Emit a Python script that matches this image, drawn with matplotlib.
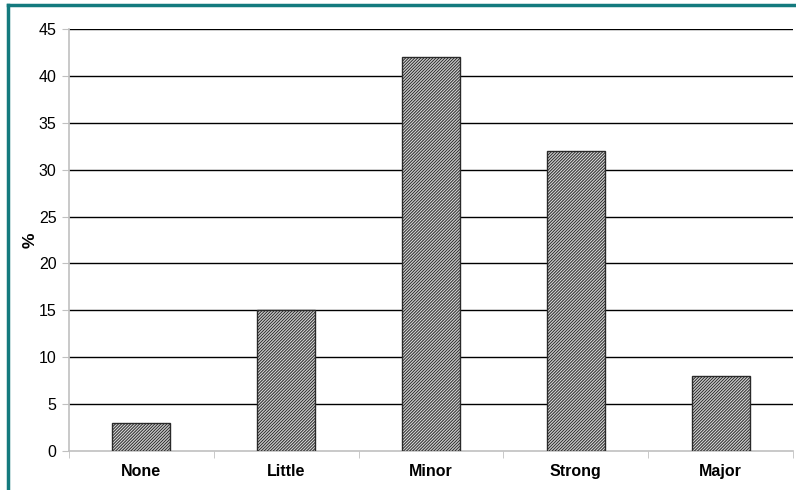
import matplotlib
matplotlib.use('Agg')
import matplotlib.pyplot as plt
from matplotlib.lines import Line2D
import numpy as np

categories = ['None', 'Little', 'Minor', 'Strong', 'Major']
percent = [3, 15, 42, 32, 8]
yticks = [0, 5, 10, 15, 20, 25, 30, 35, 40, 45]

plt.rcParams['font.family'] = ['Liberation Sans', 'DejaVu Sans']
plt.rcParams['hatch.linewidth'] = 0.7
plt.rcParams['hatch.color'] = '#4a4a4a'

fig = plt.figure(figsize=(7.96, 4.90), dpi=100)
ax = fig.add_axes([69/796, 39/490, 724/796, 422/490])

x = np.arange(len(categories))
ax.bar(x, percent, width=0.4, color='#d4d4d4', edgecolor='#2a2a2a',
       linewidth=1.0, hatch='/' * 11, zorder=3)

ax.set_xlim(-0.5, len(categories) - 0.5)
ax.set_ylim(0, 45)
ax.set_yticks(yticks)
ax.set_yticklabels([str(v) for v in yticks], fontsize=11.5)
for v in yticks[1:]:
    ax.axhline(v, color='black', linewidth=1.0, zorder=1)

# category labels centred, ticks on the boundaries between bins
ax.set_xticks(x)
ax.set_xticklabels(categories, fontsize=11.5, fontweight='bold')
ax.tick_params(axis='x', length=0, pad=9)
ax.set_xticks(np.arange(len(categories) + 1) - 0.5, minor=True)
ax.tick_params(axis='x', which='minor', length=5, color='#c0c0c0', direction='out')
ax.tick_params(axis='y', length=5, color='#c0c0c0', pad=4)

for side in ['top', 'right']:
    ax.spines[side].set_visible(False)
for side in ['left', 'bottom']:
    ax.spines[side].set_color('#c0c0c0')
    ax.spines[side].set_linewidth(1.2)

ax.set_ylabel('%', fontsize=12.5, fontweight='bold', labelpad=1)

# teal frame along top and left
fig.add_artist(Line2D([8/796, 1.0], [1 - 5/490, 1 - 5/490], color='#147a7e',
                      linewidth=2.5, transform=fig.transFigure))
fig.add_artist(Line2D([8/796, 8/796], [0, 1 - 5/490], color='#147a7e',
                      linewidth=2.5, transform=fig.transFigure))

fig.savefig('out.png', dpi=100)
